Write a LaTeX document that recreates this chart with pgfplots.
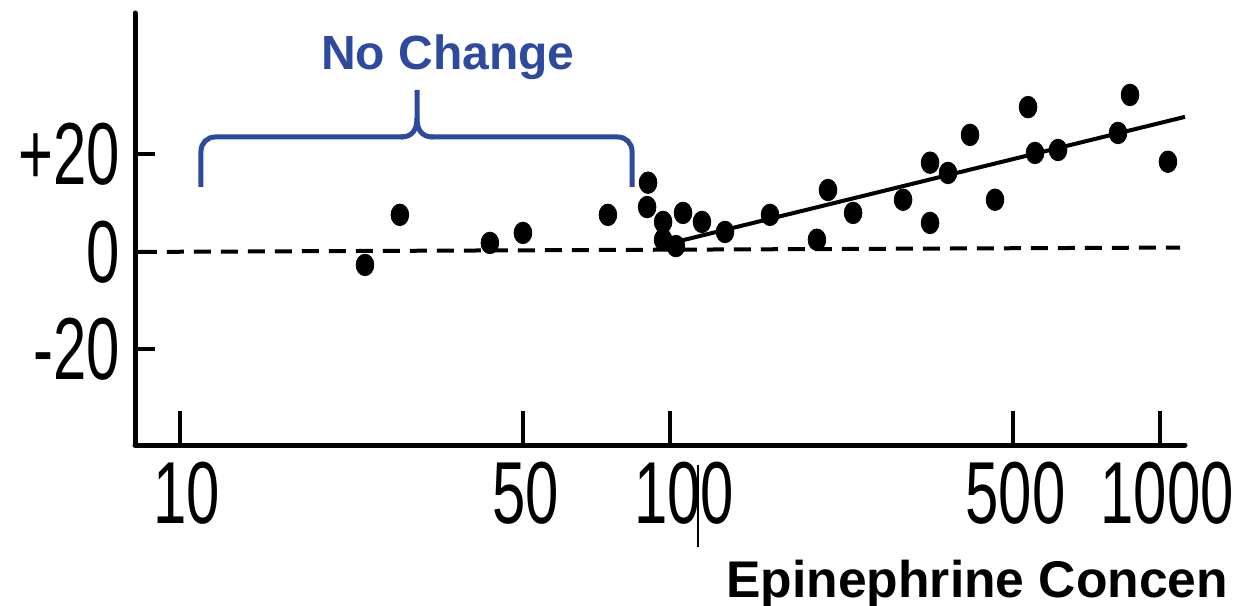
\documentclass[border=0pt]{standalone}
\usepackage{fontspec}
\setmainfont{Liberation Sans}
\newfontfamily\tickfont[FakeStretch=0.68]{Liberation Sans}
\usepackage{pgfplots}
\pgfplotsset{compat=1.18}
\definecolor{bracecol}{HTML}{2E4A9F}
\begin{document}
\begin{tikzpicture}
\path[use as bounding box] (-67.5pt,-80.5pt) rectangle (552pt,222.5pt);
\begin{axis}[
  at={(0pt,0pt)}, anchor=south west,
  scale only axis, width=525pt, height=216pt,
  xmode=log, xmin=8.094, xmax=1124.6, ymin=-39.6, ymax=49.0,
  axis x line*=bottom, axis y line*=left,
  axis line style={line width=2.5pt, line cap=round, -},
  clip=false,
  xtick=\empty,
  minor xtick={20,30,40,60,70,80,90,200,300,400,600,700,800,900},
  extra x ticks={10,50,100,500,1000},
  extra x tick labels={\hspace*{7pt}10,\hspace*{3pt}50,\hspace*{14pt}100,\hspace*{3pt}500,\hspace*{7pt}1000},
  extra x tick style={major tick length=17pt},
  ytick={-20,0,20}, yticklabels={-20,0,+20},
  tick align=inside,
  major tick length=10pt, minor tick length=9pt,
  tick style={line width=2pt, black},
  xticklabel style={font=\tickfont\fontsize{44}{44}\selectfont, inner sep=0pt, anchor=north, yshift=-8.5pt},
  yticklabel style={font=\tickfont\fontsize{44}{44}\selectfont, inner sep=0pt, anchor=east, xshift=-7.5pt},
]
\addplot[black, line width=2pt, dash pattern=on 8.5pt off 5pt] coordinates {(8.28,0) (1099,0.9)};
\addplot[black, line width=2pt] coordinates {(104.8,2.26) (1124.6,27.7)};
\addplot[only marks, mark=*, mark size=5.4pt, mark options={xscale=0.82, fill=black, draw=black}] coordinates {
(23.85,-2.67) (28.1,7.6) (42.9,1.85) (50.1,3.9) (74.7,7.6)
(90.2,14.2) (89.8,9.2) (96.8,6.15) (96.8,2.5) (102.8,1.2)
(106.3,8.0) (116.2,6.15) (129.5,4.1) (160,7.6) (199.5,2.5)
(210.1,12.7) (236.4,8.0) (299,10.7) (339.4,5.95) (339.4,18.3)
(369.3,16.2) (409.5,24.0) (460.6,10.7) (537.9,29.7) (555.8,20.3)
(619.3,20.9) (820.9,24.4) (868.5,32.2) (1038,18.5)
};
\end{axis}
\draw[bracecol, line width=2.5pt, rounded corners=7pt] (33pt,129pt) -- (33pt,154pt) -- (134pt,154pt);
\draw[bracecol, line width=2.5pt] (133pt,154pt) .. controls (139pt,154pt) and (141pt,158pt) .. (141pt,163.5pt) -- (141pt,177.5pt);
\draw[bracecol, line width=2.5pt] (141pt,163.5pt) .. controls (141pt,158pt) and (143pt,154pt) .. (149pt,154pt);
\draw[bracecol, line width=2.5pt, rounded corners=7pt] (148pt,154pt) -- (248.5pt,154pt) -- (248.5pt,129pt);
\node[anchor=base, inner sep=0pt, text=bracecol, font=\bfseries\fontsize{24}{24}\selectfont] at (156.5pt,187.5pt) {No Change};
\node[anchor=base west, inner sep=0pt, font=\bfseries\fontsize{25.8}{26}\selectfont] at (295.5pt,-76pt) {Epinephrine Concen};
\draw[line width=0.75pt] (281.5pt,-10pt) -- (281.5pt,-51pt);
\end{tikzpicture}
\end{document}
